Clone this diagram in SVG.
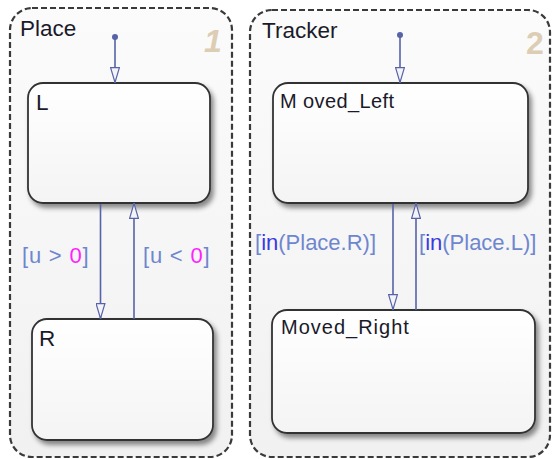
<svg xmlns="http://www.w3.org/2000/svg" width="552" height="459" viewBox="0 0 552 459">
<style>
.box{fill:url(#boxg);stroke:#3a3a3a;stroke-width:2.2;stroke-dasharray:6 3}
.state{fill:url(#stg);stroke:#333;stroke-width:1.8;filter:url(#sh)}
.name{font-family:"Liberation Sans",Arial,sans-serif;font-size:22.5px;fill:#1a1a2a}
.sname{font-family:"Liberation Sans",Arial,sans-serif;font-size:20px;fill:#1a1a2a}
.num{font-family:"Liberation Sans",Arial,sans-serif;font-size:32px;font-weight:bold;fill:#dccdb4}
.tr{stroke:#5763a8;stroke-width:1.6;fill:none;marker-end:url(#arr)}
.lbl{font-family:"Liberation Sans",Arial,sans-serif;font-size:22px;fill:#6f86cf}
.mag{fill:#ff22ff}
.kw{fill:#3a3ae0}
</style>
<defs>
<linearGradient id="boxg" x1="0" y1="0" x2="0" y2="1">
<stop offset="0" stop-color="#fbfbfb"/><stop offset="1" stop-color="#f1f1f1"/>
</linearGradient>
<linearGradient id="stg" x1="0" y1="0" x2="0" y2="1">
<stop offset="0" stop-color="#ffffff"/><stop offset="1" stop-color="#f4f4f4"/>
</linearGradient>
<filter id="sh" x="-10%" y="-10%" width="130%" height="130%">
<feDropShadow dx="3" dy="4" stdDeviation="2.5" flood-color="#000" flood-opacity="0.45"/>
</filter>
<marker id="arr" viewBox="0 0 16 10" refX="16" refY="5" markerWidth="16" markerHeight="10" markerUnits="userSpaceOnUse" orient="auto">
<path d="M0.6,0.6 L15.5,5 L0.6,9.4 Z" fill="#f3f3f8" stroke="#5763a8" stroke-width="1.2"/>
</marker>
</defs>
<rect width="552" height="459" fill="#ffffff"/>
<g id="Place">
<rect class="box" x="10" y="8" width="222" height="449" rx="22" ry="22"/>
<text class="name" x="20" y="36">Place</text>
<text class="num" x="204" y="52" font-style="italic">1</text>
</g>
<g id="Tracker">
<rect class="box" x="250" y="10" width="300" height="447" rx="22" ry="22"/>
<text class="name" x="262" y="38">Tracker</text>
<text class="num" x="526" y="54">2</text>
</g>
<g id="L">
<rect class="state" x="28" y="83" width="182" height="120" rx="15" ry="15"/>
<text class="name" x="36" y="110">L</text>
</g>
<g id="R">
<rect class="state" x="32" y="319" width="181" height="121" rx="15" ry="15"/>
<text class="name" x="39" y="346">R</text>
</g>
<g id="Moved_Left">
<rect class="state" x="273" y="83" width="255" height="120" rx="15" ry="15"/>
<text class="sname" x="280" y="108" letter-spacing="0.4">M oved_Left</text>
</g>
<g id="Moved_Right">
<rect class="state" x="272" y="310" width="263" height="123" rx="15" ry="15"/>
<text class="sname" x="281" y="334" letter-spacing="1">Moved_Right</text>
</g>
<g id="connectors">
<circle cx="115" cy="37" r="3" fill="#5763a8"/>
<line class="tr" x1="115" y1="37" x2="115" y2="83"/>
<circle cx="400" cy="35" r="3" fill="#5763a8"/>
<line class="tr" x1="400" y1="35" x2="400" y2="83"/>
<line class="tr" x1="100.5" y1="204" x2="100.5" y2="319"/>
<line class="tr" x1="134" y1="319" x2="134" y2="203"/>
<line class="tr" x1="393" y1="204" x2="393" y2="310"/>
<line class="tr" x1="416" y1="310" x2="416" y2="203"/>
<text class="lbl" x="22" y="263" letter-spacing="0.8">[u &gt; <tspan class="mag">0</tspan>]</text>
<text class="lbl" x="143" y="263" letter-spacing="0.8">[u &lt; <tspan class="mag">0</tspan>]</text>
<text class="lbl" x="255" y="250" font-size="20">[<tspan class="kw">in</tspan>(Place.R)]</text>
<text class="lbl" x="419" y="250" font-size="20">[<tspan class="kw">in</tspan>(Place.L)]</text>
</g>
</svg>
